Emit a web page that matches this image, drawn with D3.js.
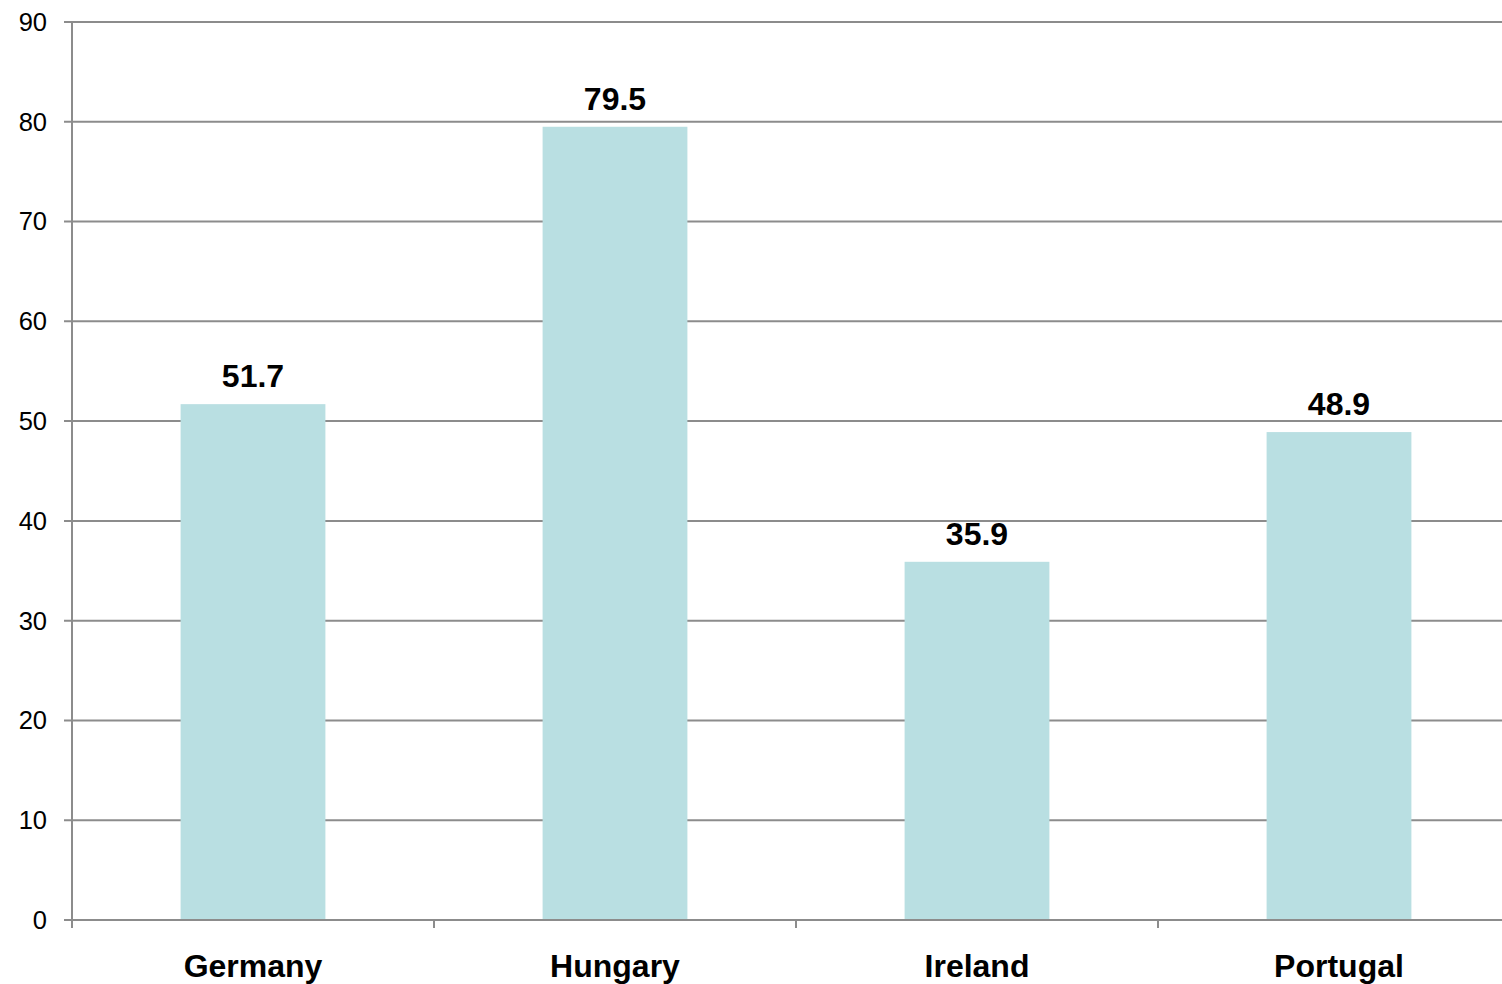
<!DOCTYPE html>
<html>
<head>
<meta charset="utf-8">
<script src="https://cdn.jsdelivr.net/npm/d3@7/dist/d3.min.js"></script>
<style>
  html, body { margin: 0; padding: 0; background: #fff; }
  svg { display: block; font-family: "Liberation Sans", Arial, sans-serif; }
</style>
</head>
<body>
<svg id="chart" width="1502" height="984"></svg>
<script>
// Chart data
const countries = ["Germany", "Hungary", "Ireland", "Portugal"];
const values = [51.7, 79.5, 35.9, 48.9];
const yTicks = [0, 10, 20, 30, 40, 50, 60, 70, 80, 90];

const svg = d3.select("#chart");
const plotLeft = 72, plotRight = 1520, plotTop = 22, plotBottom = 920;
const gridColor = "#8c8c8c";

const x = d3.scaleBand()
  .domain(countries)
  .range([plotLeft, plotRight])
  .paddingInner(0.6)
  .paddingOuter(0.3);

const y = d3.scaleLinear().domain([0, 90]).range([plotBottom, plotTop]);

// Horizontal gridlines
svg.append("g")
  .selectAll("line")
  .data(yTicks)
  .join("line")
  .attr("x1", plotLeft - 8)
  .attr("x2", plotRight)
  .attr("y1", d => y(d))
  .attr("y2", d => y(d))
  .attr("stroke", gridColor)
  .attr("stroke-width", 2);

// Y tick labels
svg.append("g")
  .selectAll("text")
  .data(yTicks)
  .join("text")
  .attr("x", 47)
  .attr("y", d => y(d))
  .attr("dy", "0.35em")
  .attr("text-anchor", "end")
  .attr("font-size", 25.5)
  .attr("fill", "#000")
  .text(d => d);

// Bars
svg.append("g")
  .selectAll("rect")
  .data(countries)
  .join("rect")
  .attr("x", d => x(d))
  .attr("width", x.bandwidth())
  .attr("y", (d, i) => y(values[i]))
  .attr("height", (d, i) => y(0) - y(values[i]))
  .attr("fill", "#b9dfe2");

// Y axis line
svg.append("line")
  .attr("x1", plotLeft).attr("x2", plotLeft)
  .attr("y1", plotTop).attr("y2", plotBottom + 8)
  .attr("stroke", gridColor)
  .attr("stroke-width", 2);

// Baseline drawn over bars
svg.append("line")
  .attr("x1", plotLeft).attr("x2", plotRight)
  .attr("y1", y(0)).attr("y2", y(0))
  .attr("stroke", gridColor)
  .attr("stroke-width", 2);

// Category boundary ticks on the x axis
const step = x.step();
svg.append("g")
  .selectAll("line")
  .data(d3.range(countries.length + 1))
  .join("line")
  .attr("x1", i => plotLeft + i * step)
  .attr("x2", i => plotLeft + i * step)
  .attr("y1", plotBottom)
  .attr("y2", plotBottom + 8)
  .attr("stroke", gridColor)
  .attr("stroke-width", 2);

// Value labels
svg.append("g")
  .selectAll("text")
  .data(countries)
  .join("text")
  .attr("x", d => x(d) + x.bandwidth() / 2)
  .attr("y", (d, i) => y(values[i]) - 17)
  .attr("text-anchor", "middle")
  .attr("font-size", 32)
  .attr("font-weight", "bold")
  .attr("fill", "#000")
  .text((d, i) => values[i].toFixed(1));

// Category labels
svg.append("g")
  .selectAll("text")
  .data(countries)
  .join("text")
  .attr("x", d => x(d) + x.bandwidth() / 2)
  .attr("y", 977)
  .attr("text-anchor", "middle")
  .attr("font-size", 32)
  .attr("font-weight", "bold")
  .attr("fill", "#000")
  .text(d => d);
</script>
</body>
</html>
